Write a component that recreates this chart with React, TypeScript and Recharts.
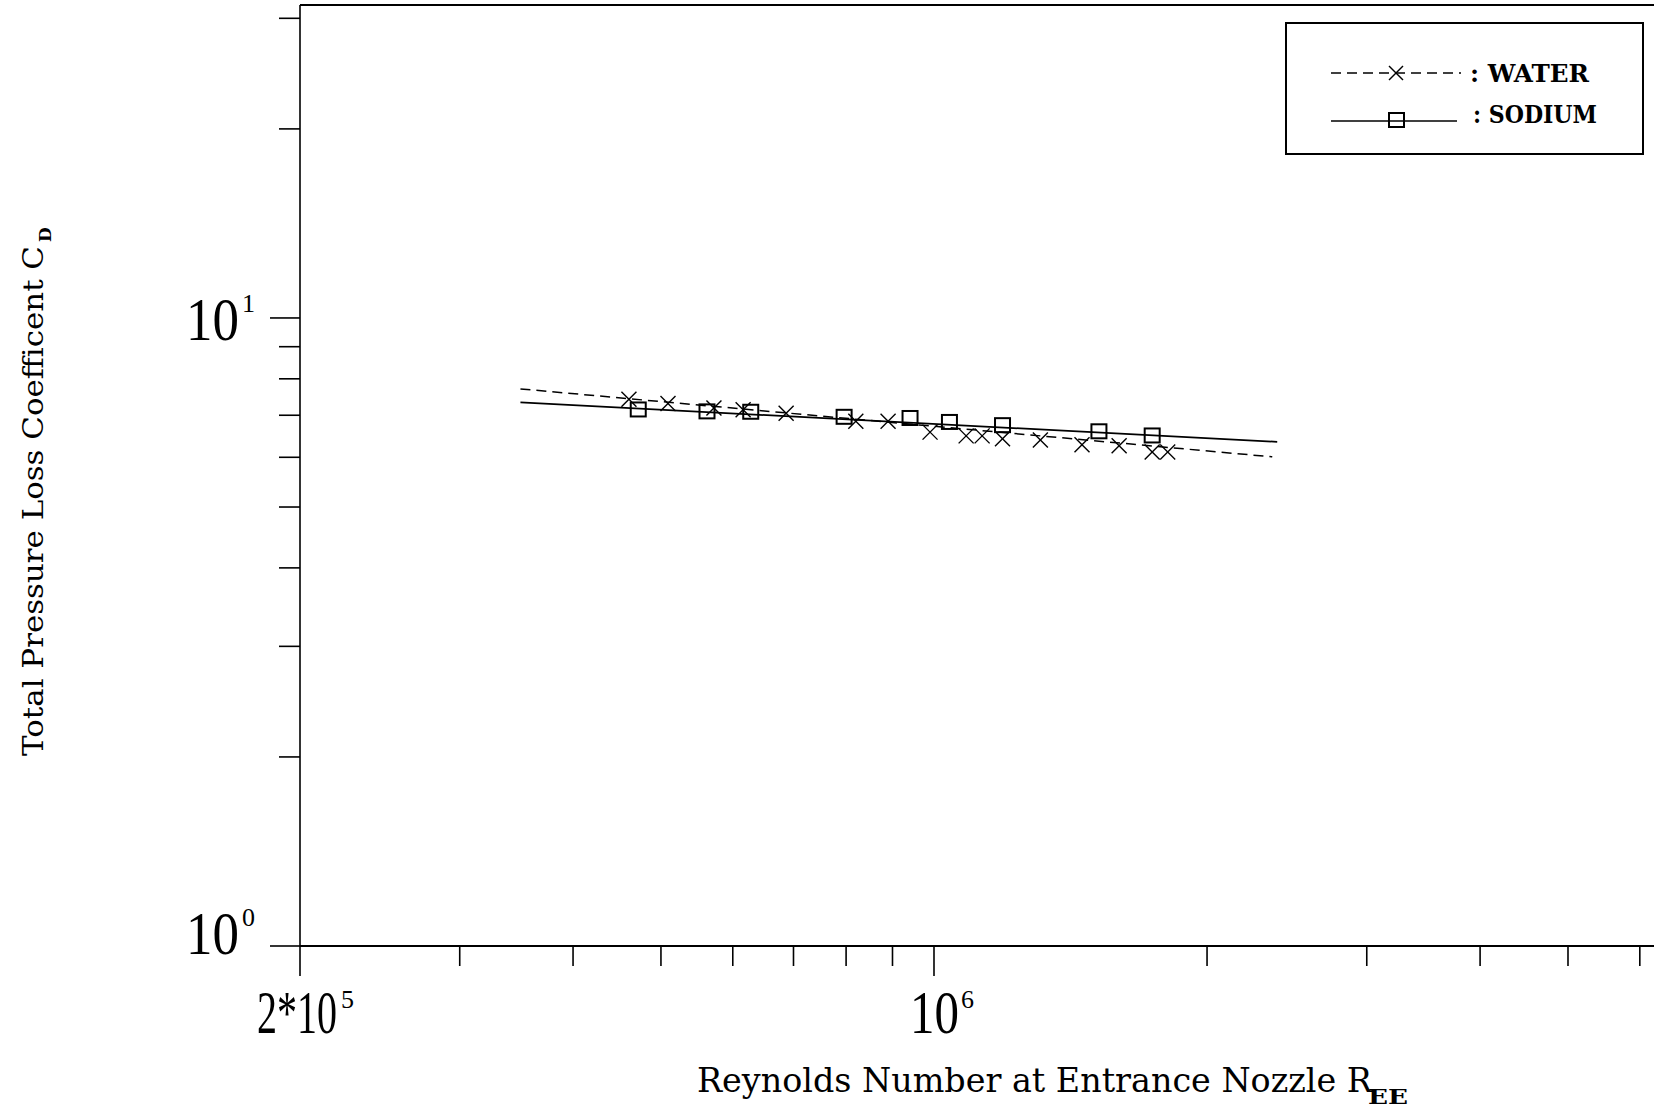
import React from 'react';
import { ComposedChart, Scatter, XAxis, YAxis, ReferenceLine, Legend } from 'recharts';

// ---- data ----
const waterRe = [4.61e5, 5.09e5, 5.72e5, 6.16e5, 6.87e5, 8.2e5, 8.9e5, 9.9e5, 1.085e6, 1.13e6, 1.19e6, 1.31e6, 1.456e6, 1.6e6, 1.74e6, 1.81e6];
const waterCd = [7.42, 7.31, 7.19, 7.14, 7.05, 6.85, 6.85, 6.58, 6.49, 6.49, 6.42, 6.39, 6.28, 6.26, 6.12, 6.12];
const sodiumRe = [4.72e5, 5.62e5, 6.28e5, 7.96e5, 9.41e5, 1.04e6, 1.19e6, 1.52e6, 1.74e6];
const sodiumCd = [7.15, 7.1, 7.09, 6.96, 6.93, 6.83, 6.75, 6.6, 6.5];
const waterFitRe = [3.5e5, 2.36e6];
const waterFitCd = [7.71, 6.01];
const sodiumFitRe = [3.5e5, 2.39e6];
const sodiumFitCd = [7.34, 6.35];

const xTicks = [2e5, 3e5, 4e5, 5e5, 6e5, 7e5, 8e5, 9e5, 1e6, 2e6, 3e6, 4e6, 5e6, 6e6];
const yTicks = [1, 2, 3, 4, 5, 6, 7, 8, 9, 10, 20, 30];
const xDomain = [2e5, 6.22e6];
const yDomain = [1, 31.5];

const xLabels: Record<number, [string, string]> = { 200000: ['2*10', '5'], 1000000: ['10', '6'] };
const yLabels: Record<number, [string, string]> = { 1: ['10', '0'], 10: ['10', '1'] };

const zip = (xs: number[], ys: number[]) => xs.map((re, i) => ({ re, cd: ys[i] }));
const waterData = zip(waterRe, waterCd);
const sodiumData = zip(sodiumRe, sodiumCd);
const waterFit = zip(waterFitRe, waterFitCd);
const sodiumFit = zip(sodiumFitRe, sodiumFitCd);

const SERIF = '"Liberation Serif", "DejaVu Serif", serif';
const SLAB = '"DejaVu Serif", "Liberation Serif", serif';

const XTick = (props: any) => {
  const { x, y, payload } = props;
  const v = payload.value;
  const lab = xLabels[v];
  const major = !!lab;
  const wide = lab && lab[0] !== '10';
  return (
    <g>
      <line x1={x} x2={x} y1={y} y2={y + (major ? 30 : 20)} stroke="#000" strokeWidth={1.6} />
      {lab && (
        <text x={wide ? x - 43 : x - 24} y={y + 87} fontFamily={SERIF} fontSize={62} fill="#000">
          <tspan textLength={wide ? 80 : 49} lengthAdjust="spacingAndGlyphs">{lab[0]}</tspan>
          <tspan dx={wide ? 4 : 2} dy={-25} fontSize={26}>{lab[1]}</tspan>
        </text>
      )}
    </g>
  );
};

const YTick = (props: any) => {
  const { x, y, payload } = props;
  const v = payload.value;
  const lab = yLabels[v];
  const major = !!lab;
  const base = v === 1 ? y + 8 : y + 22;
  return (
    <g>
      <line x1={x - (major ? 30 : 21)} x2={x} y1={y} y2={y} stroke="#000" strokeWidth={1.6} />
      {lab && (
        <text x={x - 114} y={base} fontFamily={SERIF} fontSize={62} fill="#000">
          <tspan textLength={53} lengthAdjust="spacingAndGlyphs">{lab[0]}</tspan>
          <tspan dx={3} dy={-28} fontSize={26}>{lab[1]}</tspan>
        </text>
      )}
    </g>
  );
};

const XMark = (p: any) => {
  const { cx, cy } = p;
  const s = 7.5;
  return (
    <g>
      <line x1={cx - s} y1={cy - s} x2={cx + s} y2={cy + s} stroke="#000" strokeWidth={1.4} />
      <line x1={cx - s} y1={cy + s} x2={cx + s} y2={cy - s} stroke="#000" strokeWidth={1.4} />
    </g>
  );
};

const SquareMark = (p: any) => {
  const { cx, cy } = p;
  return <rect x={cx - 7.5} y={cy - 7} width={15} height={14} fill="none" stroke="#000" strokeWidth={2} />;
};

const NoMark = () => <g />;

const XTitle = () => (
  <text x={697} y={1092} fontFamily={SLAB} fontSize={34} fill="#000">
    <tspan textLength={675} lengthAdjust="spacingAndGlyphs">Reynolds Number at Entrance Nozzle R</tspan>
    <tspan dx={-4} dy={12} fontSize={20} fontWeight="bold" textLength={40} lengthAdjust="spacingAndGlyphs">EE</tspan>
  </text>
);

const YTitle = () => (
  <text x={43} y={756} transform="rotate(-90 43 756)" fontFamily={SLAB} fontSize={28} fill="#000">
    <tspan textLength={510} lengthAdjust="spacingAndGlyphs">Total Pressure Loss Coefficent  C</tspan>
    <tspan dx={4} dy={8} fontSize={17} fontWeight="bold">D</tspan>
  </text>
);

const LegendBox = () => (
  <svg width={360} height={134} style={{ display: 'block' }}>
    <rect x={1} y={1} width={357} height={131} fill="#fff" stroke="#000" strokeWidth={2} />
    <line x1={46} x2={176} y1={51} y2={51} stroke="#000" strokeWidth={1.5} strokeDasharray="10 6" />
    <line x1={104} y1={44} x2={118} y2={58} stroke="#000" strokeWidth={1.4} />
    <line x1={104} y1={58} x2={118} y2={44} stroke="#000" strokeWidth={1.4} />
    <text x={185} y={60} fontFamily={SLAB} fontWeight="bold" fontSize={24} textLength={119} lengthAdjust="spacingAndGlyphs" fill="#000">: WATER</text>
    <line x1={46} x2={172} y1={99} y2={99} stroke="#000" strokeWidth={1.7} />
    <rect x={104} y={91} width={15} height={14} fill="none" stroke="#000" strokeWidth={2} />
    <text x={188} y={101} fontFamily={SLAB} fontWeight="bold" fontSize={24} textLength={124} lengthAdjust="spacingAndGlyphs" fill="#000">: SODIUM</text>
  </svg>
);

export default function App() {
  return (
    <div style={{ position: 'absolute', left: 0, top: 0, width: 1657, height: 1111, background: '#fff' }}>
      <ComposedChart width={1657} height={1111} margin={{ top: 5, right: 3, bottom: 0, left: 0 }}>
        <XAxis
          type="number"
          dataKey="re"
          scale="log"
          domain={xDomain}
          ticks={xTicks}
          interval={0}
          allowDataOverflow
          height={165}
          tickSize={0}
          tickMargin={0}
          tick={(p: any) => <XTick {...p} />}
          axisLine={{ stroke: '#000', strokeWidth: 2 }}
          label={{ content: () => <XTitle /> }}
        />
        <YAxis
          type="number"
          dataKey="cd"
          scale="log"
          domain={yDomain}
          ticks={yTicks}
          interval={0}
          allowDataOverflow
          width={300}
          tickSize={0}
          tickMargin={0}
          tick={(p: any) => <YTick {...p} />}
          axisLine={{ stroke: '#000', strokeWidth: 1.6 }}
          label={{ content: () => <YTitle /> }}
        />
        <ReferenceLine y={yDomain[1]} stroke="#000" strokeWidth={2} ifOverflow="extendDomain" />
        <Scatter data={waterFit} isAnimationActive={false} shape={NoMark} legendType="none"
          line={{ stroke: '#000', strokeWidth: 1.5, strokeDasharray: '10 6' }} lineType="joint" />
        <Scatter data={sodiumFit} isAnimationActive={false} shape={NoMark} legendType="none"
          line={{ stroke: '#000', strokeWidth: 1.7 }} lineType="joint" />
        <Scatter data={waterData} isAnimationActive={false} shape={XMark} legendType="none" />
        <Scatter data={sodiumData} isAnimationActive={false} shape={SquareMark} legendType="none" />
        <Legend
          layout="vertical"
          align="center"
          verticalAlign="middle"
          content={() => <LegendBox />}
          wrapperStyle={{ position: 'absolute', left: 1285, top: 22, width: 360, height: 134 }}
        />
      </ComposedChart>
    </div>
  );
}
